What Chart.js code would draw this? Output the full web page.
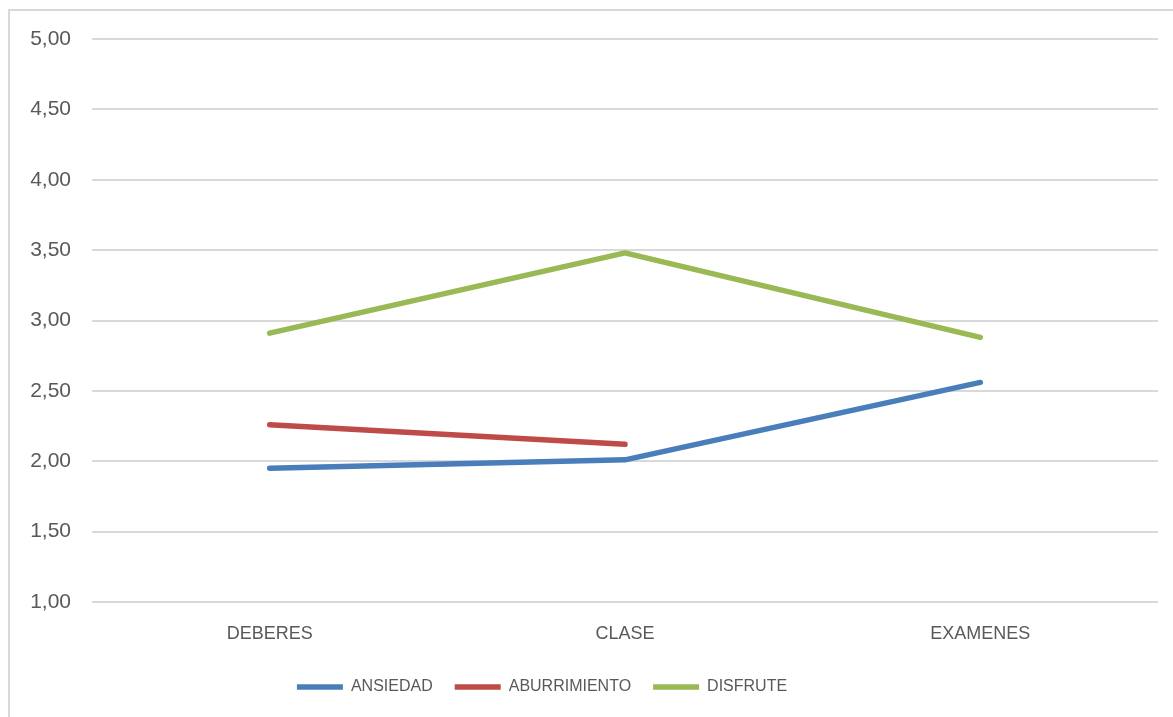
<!DOCTYPE html>
<html>
<head>
<meta charset="utf-8">
<script src="https://cdn.jsdelivr.net/npm/chart.js@4/dist/chart.umd.min.js"></script>
<style>
  html, body { margin: 0; padding: 0; background: #fff; overflow: hidden; }
  #frame {
    position: absolute; left: 8px; top: 9px; width: 1200px; height: 760px;
    border: 2px solid #d9d9d9; box-sizing: border-box;
  }
  #chart { position: absolute; left: 0; top: 0; }
</style>
</head>
<body>
<div id="frame"></div>
<canvas id="chart" width="1173" height="717"></canvas>
<script>
// Datos
const categorias = ['DEBERES', 'CLASE', 'EXAMENES'];
const ansiedad = [1.95, 2.01, 2.56];
const aburrimiento = [2.26, 2.12, null];
const disfrute = [2.91, 3.48, 2.88];
const yTicks = [1, 1.5, 2, 2.5, 3, 3.5, 4, 4.5, 5];

const textColor = '#595959';
const fontFamily = '"Liberation Sans", Arial, sans-serif';

function serie(label, data, color) {
  return {
    label: label,
    data: data,
    borderColor: color,
    backgroundColor: color,
    borderWidth: 5.5,
    borderCapStyle: 'round',
    borderJoinStyle: 'round',
    pointRadius: 0,
    pointHoverRadius: 0,
    pointStyle: 'line',
    tension: 0,
    spanGaps: false
  };
}

// la leyenda del original no esta centrada, se corre un poco a la izquierda
const legendShift = {
  id: 'legendShift',
  afterLayout(chart) {
    chart.legend.left -= 74;
  }
};

const ctx = document.getElementById('chart');

new Chart(ctx, {
  type: 'line',
  data: {
    labels: categorias,
    datasets: [
      serie('ANSIEDAD', ansiedad, '#4a7ebb'),
      serie('ABURRIMIENTO', aburrimiento, '#be4b48'),
      serie('DISFRUTE', disfrute, '#98b954')
    ]
  },
  plugins: [legendShift],
  options: {
    responsive: false,
    animation: false,
    layout: {
      padding: { left: 0, right: 15, top: 39, bottom: 12 }
    },
    plugins: {
      tooltip: { enabled: false },
      legend: {
        position: 'bottom',
        labels: {
          usePointStyle: true,
          pointStyleWidth: 46,
          boxHeight: 5,
          padding: 22,
          color: textColor,
          font: { family: fontFamily, size: 16 }
        }
      }
    },
    scales: {
      x: {
        offset: true,
        grid: { display: false, drawTicks: false },
        border: { display: false },
        ticks: {
          padding: 21,
          color: textColor,
          font: { family: fontFamily, size: 18 }
        },
        afterFit(scale) { scale.height = 55; }
      },
      y: {
        min: 1,
        max: 5,
        afterBuildTicks(scale) { scale.ticks = yTicks.map(v => ({ value: v })); },
        grid: { color: '#d9d9d9', lineWidth: 2, drawTicks: false },
        border: { display: false },
        ticks: {
          padding: 21,
          color: textColor,
          font: { family: fontFamily, size: 21 },
          callback: v => v.toFixed(2).replace('.', ',')
        },
        afterFit(scale) { scale.width = 92; }
      }
    }
  }
});
</script>
</body>
</html>
